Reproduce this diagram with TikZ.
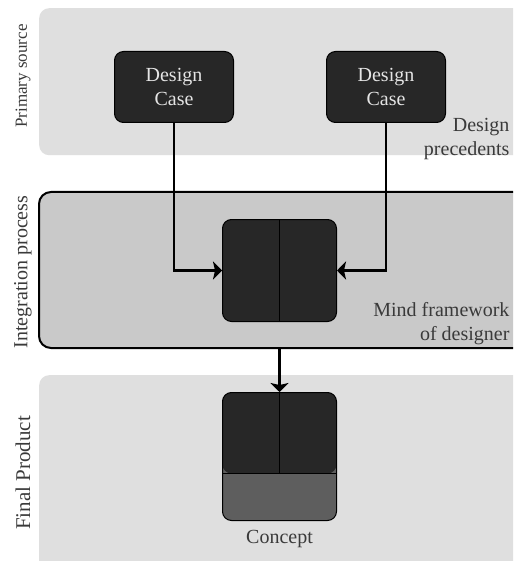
\documentclass[tikz,border=0pt]{standalone}
\usepackage{fontspec}
\setmainfont{Liberation Serif}
\usetikzlibrary{arrows.meta,positioning}
\definecolor{lightpanel}{HTML}{DFDFDF}
\definecolor{midpanel}{HTML}{C9C9C9}
\definecolor{darkbox}{HTML}{272727}
\definecolor{lowbox}{HTML}{5E5E5E}
\definecolor{labeltext}{HTML}{3A3A3A}

\begin{document}
\begin{tikzpicture}[x=1pt, y=-1pt, font=\fontsize{20}{24}\selectfont,
    panel/.style={fill=lightpanel, rounded corners=10pt, anchor=north west, inner sep=0pt},
    block/.style={fill=darkbox, draw=black, line width=1pt, rounded corners=9pt,
      anchor=north west, inner sep=0pt, text=white!90!black, align=center},
    side/.style={rotate=90, text=labeltext},
    note/.style={align=right, anchor=east, text=labeltext},
    link/.style={-{Stealth[length=9pt, width=18pt, inset=2pt]}, line width=2.2pt}]
  \clip (0,0) rectangle (513,561);
  \fill[white] (0,0) rectangle (513,561);
  % the three bands
  \node (src) [panel, minimum width=495pt, minimum height=147pt] at (39,8) {};
  \node (integ) [panel, fill=midpanel, draw=black, line width=2pt, rounded corners=12pt,
    minimum width=495pt, minimum height=156pt] at (38,191) {};
  \node (final) [panel, minimum width=495pt, minimum height=200pt] at (39,375) {};
  % band titles
  \node [side, font=\fontsize{17}{20}\selectfont] at (23,76) {Primary source};
  \node [side] at (23,272) {Integration process};
  \node [side, font=\fontsize{21}{24}\selectfont] at (23,473) {Final Product};
  \node [note] at (513,139) {Design\\precedents};
  \node [note] at (513,324) {Mind framework\\of designer};
  % boxes
  \node (case1) [block, minimum width=119pt, minimum height=71pt] at (114,51) {Design\\Case};
  \node (case2) [block, minimum width=119pt, minimum height=71pt] at (326,51) {Design\\Case};
  \node (mind) [block, minimum width=114pt, minimum height=102pt] at (222,219) {};
  \node (concept) [block, fill=lowbox, minimum width=114pt, minimum height=128pt,
    path picture={\fill[darkbox] (path picture bounding box.north west)
      rectangle ([yshift=47pt]path picture bounding box.south east);
      \draw[line width=1pt] ([yshift=47pt]path picture bounding box.south west)
      -- ([yshift=47pt]path picture bounding box.south east);}] at (222,392) {};
  \node (label) [below=6pt of concept, text=labeltext] {Concept};
  \draw[line width=1pt] (mind.north) -- (mind.south);
  \draw[line width=1pt] (concept.north) -- ([yshift=47pt]concept.south);
  % connectors
  \draw[link] (case1.south) |- (mind.west);
  \draw[link] (case2.south) |- (mind.east);
  \draw[link] (mind.south |- integ.south) -- (concept.north);
\end{tikzpicture}
\end{document}
